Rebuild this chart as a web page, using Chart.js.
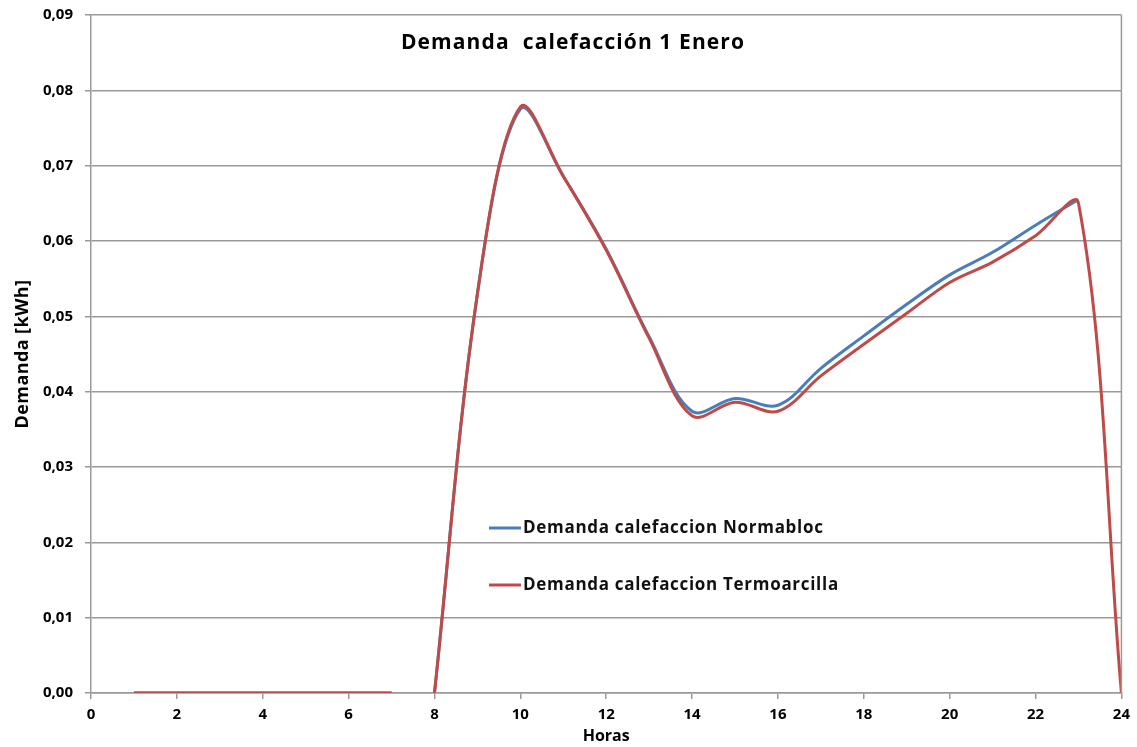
<!DOCTYPE html>
<html lang="es">
<head>
<meta charset="UTF-8">
<title>Demanda calefacción 1 Enero</title>
<style>
  html, body { margin: 0; padding: 0; background: #fff; }
  #wrap { width: 1137px; height: 747px; position: relative; }
</style>
</head>
<body>
<div id="wrap"><canvas id="myCanvas"></canvas></div>
<script src="https://cdn.jsdelivr.net/npm/chart.js@4.4.1/dist/chart.umd.min.js"></script>
<script>
// datos (hora -> kWh)
const hours = [1, 2, 3, 4, 5, 6, 7, 8, 9, 10, 11, 12, 13, 14, 15, 16, 17, 18, 19, 20, 21, 22, 23, 24];
const normabloc = [0, 0, 0, 0, 0, 0, 0, 0, 0.053, 0.0775, 0.0686, 0.0589, 0.0473, 0.0374, 0.0391, 0.0382, 0.0431, 0.0474, 0.0516, 0.0555, 0.0585, 0.0621, 0.0655, null];
const termoarcilla = [0, 0, 0, 0, 0, 0, 0, 0, 0.053, 0.0778, 0.0686, 0.0588, 0.0471, 0.0368, 0.0386, 0.0374, 0.0421, 0.0463, 0.0504, 0.0545, 0.0572, 0.0607, 0.065, 0];
const breakAfterHour = 7; // la serie se corta entre 7 y 8
const xTicks = { min: 0, max: 24, step: 2 };
const yTicks = { min: 0, max: 0.09, step: 0.01 };

const seriesNames = ['Demanda calefaccion Normabloc', 'Demanda calefaccion Termoarcilla'];
const blue = '#4a7ebb';
const red = '#be4b48';
const gridGray = '#9a9a9a';
const FONT = '"Open Sans", sans-serif';

function toPoints(vals) {
  const pts = [];
  hours.forEach((h, i) => {
    pts.push({ x: h, y: vals[i] });
    if (h === breakAfterHour) pts.push({ x: h, y: null });
  });
  return pts;
}

// textos dentro del grafico: titulo, leyenda, titulos de ejes, borde derecho
const overlay = {
  id: 'overlay',
  afterDraw(chart) {
    const c = chart.ctx;
    const a = chart.chartArea;
    c.save();
    // borde derecho
    c.strokeStyle = gridGray;
    c.lineWidth = 1.5;
    c.beginPath();
    c.moveTo(a.right, a.top);
    c.lineTo(a.right, a.bottom);
    c.stroke();

    c.fillStyle = '#000';
    c.textBaseline = 'middle';

    // titulo
    c.font = 'bold 21px ' + FONT;
    c.letterSpacing = '1.1px';
    c.textAlign = 'center';
    c.fillText('Demanda  calefacción 1 Enero', 573, 43);

    // eje x
    c.letterSpacing = '0px';
    c.font = 'bold 16px ' + FONT;
    c.fillText('Horas', (a.left + a.right) / 2, 736);

    // eje y
    c.save();
    c.translate(23, (a.top + a.bottom) / 2);
    c.rotate(-Math.PI / 2);
    c.font = 'bold 18px ' + FONT;
    c.letterSpacing = '0.4px';
    c.fillText('Demanda [kWh]', 0, 0);
    c.restore();

    // leyenda
    const rows = [[seriesNames[0], blue, 528], [seriesNames[1], red, 585]];
    c.textAlign = 'left';
    c.font = 'bold 17px ' + FONT;
    c.letterSpacing = '0.7px';
    rows.forEach(([txt, col, y]) => {
      c.strokeStyle = col;
      c.lineWidth = 3;
      c.beginPath();
      c.moveTo(489, y);
      c.lineTo(521, y);
      c.stroke();
      c.fillStyle = '#111';
      c.fillText(txt, 523, y);
    });
    c.restore();
  }
};

const ctx = document.getElementById('myCanvas').getContext('2d');
const myChart = new Chart(ctx, {
  type: 'line',
  data: {
    datasets: [{
      label: seriesNames[0],
      data: toPoints(normabloc),
      borderColor: blue,
      borderWidth: 3,
      pointRadius: 0,
      tension: 0.35,
      order: 1
    }, {
      label: seriesNames[1],
      data: toPoints(termoarcilla),
      borderColor: red,
      borderWidth: 3,
      pointRadius: 0,
      tension: 0.35,
      order: 0
    }]
  },
  options: {
    responsive: true,
    maintainAspectRatio: false,
    animation: false,
    spanGaps: false,
    layout: { padding: { left: 0, right: 12, top: 15, bottom: 0 } },
    plugins: {
      legend: { display: false },
      title: { display: false },
      tooltip: { enabled: false }
    },
    scales: {
      x: {
        type: 'linear',
        min: xTicks.min,
        max: xTicks.max,
        afterFit: s => { s.height = 54; },
        border: { color: gridGray, width: 1.5 },
        grid: { drawOnChartArea: false, drawTicks: true, tickLength: 6, color: gridGray, lineWidth: 1.5 },
        ticks: {
          stepSize: xTicks.step,
          padding: 7,
          color: '#000',
          font: { family: FONT, weight: 'bold', size: 15 },
          maxRotation: 0
        }
      },
      y: {
        min: yTicks.min,
        max: yTicks.max,
        afterFit: s => { s.width = 91; s.paddingTop = 0; s.paddingBottom = 0; },
        border: { color: gridGray, width: 1.5 },
        grid: { color: gridGray, lineWidth: 1.5, tickLength: 6 },
        ticks: {
          stepSize: yTicks.step,
          padding: 12,
          color: '#000',
          font: { family: FONT, weight: 'bold', size: 15 },
          callback: v => v.toFixed(2).replace('.', ',')
        }
      }
    }
  },
  plugins: [overlay]
});
</script>
</body>
</html>
